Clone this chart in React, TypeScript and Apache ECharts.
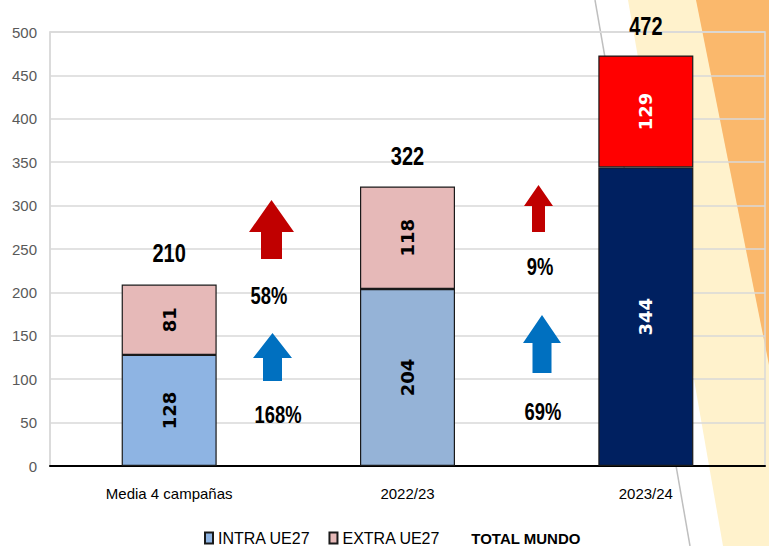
import React, { useEffect, useRef } from "react";
import * as echarts from "echarts";

const categories = ["Media 4 campañas", "2022/23", "2023/24"];
const intraValues = [128, 204, 344];
const extraValues = [81, 118, 129];
const totalValues = [210, 322, 472];
const intraColors = ["#8EB4E3", "#95B3D7", "#002060"];
const extraColors = ["#E6B9B8", "#E6B9B8", "#FF0000"];
const innerLabelColors = ["#000000", "#000000", "#FFFFFF"];
const extraGrowth = ["58%", "9%"];
const intraGrowth = ["168%", "69%"];
const yTicks = [0, 50, 100, 150, 200, 250, 300, 350, 400, 450, 500];

const ARIAL = "'Liberation Sans', Arial, sans-serif";
const BAR_FONT = "'DejaVu Sans', Verdana, sans-serif";

function arrow(cx: number, tipY: number, headW: number, headBaseY: number, shaftW: number, bottomY: number, color: string) {
  return {
    type: "polygon",
    z: 20,
    silent: true,
    shape: {
      points: [
        [cx, tipY],
        [cx + headW / 2, headBaseY],
        [cx + shaftW / 2, headBaseY],
        [cx + shaftW / 2, bottomY],
        [cx - shaftW / 2, bottomY],
        [cx - shaftW / 2, headBaseY],
        [cx - headW / 2, headBaseY],
      ],
    },
    style: { fill: color },
  };
}

function narrowText(text: string, x: number, y: number, size: number) {
  return {
    type: "text",
    z: 20,
    silent: true,
    x,
    y,
    scaleX: 0.8,
    style: {
      text,
      fill: "#000",
      font: `bold ${size}px ${ARIAL}`,
      align: "center",
      verticalAlign: "middle",
    },
  };
}

const baseGraphic: any[] = [
  {
    type: "polygon",
    z: -10,
    silent: true,
    shape: { points: [[628, 0], [769, 0], [769, 546], [723, 546]] },
    style: { fill: "#FFF2CC" },
  },
  {
    type: "polygon",
    z: -9,
    silent: true,
    shape: { points: [[696, 0], [769, 0], [769, 365]] },
    style: { fill: "#FAB86C" },
  },
  {
    type: "line",
    z: -8,
    silent: true,
    shape: { x1: 595, y1: 0, x2: 690, y2: 546 },
    style: { stroke: "#BFBFBF", lineWidth: 1.5 },
  },
  {
    type: "text",
    z: 20,
    silent: true,
    x: 456,
    y: -19,
    style: { text: "(", fill: "#C55A11", font: `18px ${ARIAL}` },
  },
  {
    type: "text",
    z: 20,
    silent: true,
    x: 546,
    y: -19,
    style: { text: ")", fill: "#C55A11", font: `18px ${ARIAL}` },
  },
  arrow(271.5, 200, 45, 232, 21, 259, "#C00000"),
  arrow(272.5, 333, 39, 358, 19, 381, "#0070C0"),
  arrow(538.5, 185, 29, 206, 13, 232, "#C00000"),
  arrow(542, 315, 38, 343, 19, 373, "#0070C0"),
  narrowText(extraGrowth[0], 269, 296, 23),
  narrowText(intraGrowth[0], 278, 415, 23),
  narrowText(extraGrowth[1], 540, 267, 23),
  narrowText(intraGrowth[1], 543, 412, 23),
];

export default function App() {
  const ref = useRef<HTMLDivElement>(null);
  useEffect(() => {
    if (!ref.current) return;
    const chart = echarts.init(ref.current, undefined, { renderer: "svg" });
    const barLabel = {
      show: true,
      position: "inside",
      rotate: 90,
      fontFamily: BAR_FONT,
      fontWeight: "bold",
      fontSize: 18,
    };
    chart.setOption({
      animation: false,
      backgroundColor: "#FFFFFF",
      grid: {
        left: 50,
        right: 4,
        top: 32,
        bottom: 80,
        show: true,
        borderColor: "#D9D9D9",
        borderWidth: 1.5,
        backgroundColor: "transparent",
      },
      legend: {
        left: 204,
        top: 530,
        padding: 0,
        itemWidth: 8,
        itemHeight: 11,
        itemGap: 18,
        textStyle: { fontFamily: ARIAL, fontSize: 16, color: "#000" },
        data: [
          { name: "INTRA UE27", icon: "rect" },
          { name: "EXTRA UE27", icon: "rect" },
          {
            name: "TOTAL MUNDO",
            icon: "none",
            textStyle: { fontWeight: "bold", fontSize: 15, fontFamily: ARIAL },
          },
        ],
      },
      xAxis: {
        type: "category",
        data: categories,
        axisLine: { lineStyle: { color: "#000", width: 2 } },
        axisTick: { show: false },
        axisLabel: { fontFamily: ARIAL, fontSize: 15, color: "#000", margin: 20 },
      },
      yAxis: {
        type: "value",
        min: yTicks[0],
        max: yTicks[yTicks.length - 1],
        interval: 50,
        axisLine: { show: true, lineStyle: { color: "#D9D9D9", width: 1.5 } },
        axisTick: { show: false },
        splitLine: { lineStyle: { color: "#D9D9D9", width: 1.5 } },
        axisLabel: { fontFamily: ARIAL, fontSize: 15, color: "#595959", margin: 13 },
      },
      graphic: baseGraphic,
      series: [
        {
          name: "INTRA UE27",
          type: "bar",
          stack: "total",
          barWidth: 95,
          itemStyle: { color: intraColors[0], borderColor: "#1A1A1A", borderWidth: 1.2 },
          data: intraValues.map((v, i) => ({
            value: v,
            itemStyle: { color: intraColors[i] },
            label: { color: innerLabelColors[i] },
          })),
          label: barLabel,
        },
        {
          name: "EXTRA UE27",
          type: "bar",
          stack: "total",
          barWidth: 95,
          itemStyle: { color: extraColors[0], borderColor: "#1A1A1A", borderWidth: 1.2 },
          data: extraValues.map((v, i) => ({
            value: v,
            itemStyle: { color: extraColors[i] },
            label: { color: innerLabelColors[i] },
          })),
          label: barLabel,
        },
        {
          name: "TOTAL MUNDO",
          type: "line",
          data: totalValues,
          symbol: "none",
          itemStyle: { color: "transparent" },
          lineStyle: { width: 0, opacity: 0 },
          label: { show: false },
        },
      ],
    });
    const totalTexts = totalValues.map((v, i) => {
      const p = chart.convertToPixel({ seriesIndex: 2 }, [i, v]) as number[];
      return narrowText(String(v), p[0], p[1] - 30, 25);
    });
    chart.setOption({ graphic: [...baseGraphic, ...totalTexts] });
    return () => chart.dispose();
  }, []);
  return <div ref={ref} style={{ position: "fixed", left: 0, top: 0, width: 769, height: 546 }} />;
}
